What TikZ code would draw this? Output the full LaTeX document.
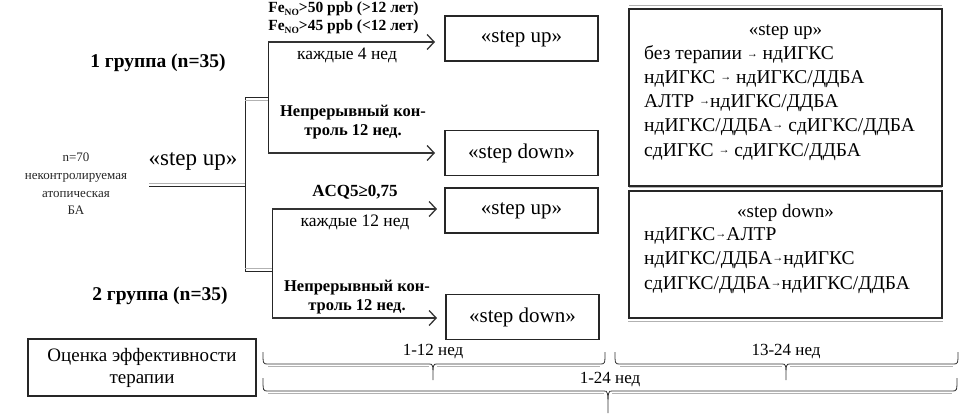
\documentclass[tikz,border=0pt]{standalone}
\usepackage{fontspec}
\setmainfont{Liberation Serif}
\usetikzlibrary{arrows.meta,calc}
\newcommand{\sarr}{\raisebox{0.3ex}{\fontsize{11}{11}\selectfont →}}
\newcommand{\mybrace}[6]{%
  \draw[line width=0.8pt, black!80] (#1,#4) .. controls (#1,#5) .. (#1+5,#5) -- (#3-4,#5) .. controls (#3,#5) .. (#3,#6) .. controls (#3,#5) .. (#3+4,#5) -- (#2-5,#5) .. controls (#2,#5) .. (#2,#4);
  \draw[line width=0.8pt, black!30] (#1+5,#5+2.2) -- (#3-4,#5+2.2) (#3+4,#5+2.2) -- (#2-5,#5+2.2);
}
\tikzset{
  lbox/.style={draw=black!85, line width=1.2pt, minimum width=153pt, minimum height=45pt, inner sep=0pt, font=\fontsize{21}{24}\selectfont},
  rbox/.style={draw=black!85, line width=1.3pt, inner sep=0pt},
  conn/.style={line width=1pt, black!85},
  arr/.style={line width=2pt, black!80, -{Straight Barb[length=7pt, width=15pt, line width=1.3pt]}},
  blab/.style={font=\fontsize{16.5}{19}\selectfont\bfseries, align=center, inner sep=0pt},
  nlab/.style={font=\fontsize{17.5}{19}\selectfont, align=center, inner sep=0pt},
  rtxt/.style={font=\fontsize{19.5}{24}\selectfont, anchor=west, inner sep=0pt},
  glab/.style={font=\fontsize{19.5}{22}\selectfont\bfseries, inner sep=0pt},
}
\begin{document}
\begin{tikzpicture}[x=1pt, y=-1pt]
\useasboundingbox (0,0) rectangle (975,413);

% left text
\node[font=\fontsize{13}{17.7}\selectfont, align=center, inner sep=0pt, text=black!85] (start) at (76,184) {n=70\\неконтролируемая\\атопическая\\БА};
\node[font=\fontsize{23}{26}\selectfont, inner sep=0pt] (stepup0) at (193,161) {«step up»};
\node[glab] (g1) at (158,63) {1 группа (n=35)};
\node[glab] (g2) at (160,296) {2 группа (n=35)};

% boxes
\node[lbox] (su1) at (521.5,38.5) {«step up»};
\node[lbox] (sd1) at (521.5,153) {«step down»};
\node[lbox] (su2) at (521.5,210.5) {«step up»};
\node[lbox] (sd2) at (522.5,317) {«step down»};

% bracket coordinates
\coordinate (ul) at (149,186);
\coordinate (um) at (245,186);
\coordinate (bT) at (245,97);
\coordinate (bB) at (245,271);
\coordinate (t1) at (268,97);
\coordinate (t2) at (272,271);
\coordinate (a1s) at (268,42);
\coordinate (a1e) at (435,42);
\coordinate (a2s) at (268,153);
\coordinate (a2e) at (435,153);
\coordinate (a3s) at (272,209);
\coordinate (a3e) at (437,209);
\coordinate (a4s) at (272,318);
\coordinate (a4e) at (437,318);

\draw[conn] (ul) -- (um);
\draw[black!30, line width=0.8pt] ($(ul)+(0,-3)$) -- ($(um)+(0,-3)$);
\draw[conn] (bT) -- (bB);
\draw[conn] (bT) -- (t1);
\draw[black!30, line width=0.8pt] ($(bT)+(0,3)$) -- ($(t1)+(0,3)$);
\draw[conn] (bB) -- (t2);
\draw[black!30, line width=0.8pt] ($(bB)+(0,-3)$) -- ($(t2)+(0,-3)$);
\draw[conn] (a1s) -- (a2s);
\draw[conn] (a3s) -- (a4s);
\draw[arr] (a1s) -- (a1e);
\draw[arr] (a2s) -- (a2e);
\draw[arr] (a3s) -- (a3e);
\draw[arr] (a4s) -- (a4e);

% arrow labels
\node[blab, font=\fontsize{15.5}{19}\selectfont\bfseries] (fe1) at (343.5,9) {Fe\raisebox{-0.35ex}{\fontsize{9.5}{9}\selectfont NO}>50 ppb (>12 лет)};
\node[blab, font=\fontsize{15.5}{19}\selectfont\bfseries] (fe2) at (343.5,27) {Fe\raisebox{-0.35ex}{\fontsize{9.5}{9}\selectfont NO}>45 ppb (<12 лет)};
\node[nlab] (k4) at (347,55) {каждые 4 нед};
\node[blab] (nk1) at (353,122.5) {Непрерывный кон-\\троль 12 нед.};
\node[blab, font=\fontsize{17}{19}\selectfont\bfseries] (acq) at (355,192) {ACQ5≥0,75};
\node[nlab] (k12) at (355,222) {каждые 12 нед};
\node[blab] (nk2) at (357,297) {Непрерывный кон-\\троль 12 нед.};

% right boxes
\node[rbox, minimum width=313pt, minimum height=177pt] (rb1) at (785.5,97.5) {};
\draw[black!30, line width=0.8pt] ($(rb1.north west)+(1,-2.5)$) -- ($(rb1.north east)+(-1,-2.5)$);
\node[rbox, minimum width=313pt, minimum height=127pt] (rb2) at (785.5,254.5) {};
\draw[black!30, line width=0.8pt] ($(rb2.north west)+(1,-2.8)$) -- ($(rb2.north east)+(-1,-2.8)$);
\draw[black!30, line width=0.8pt] ($(rb2.south west)+(0,3)$) -- ($(rb2.south east)+(0,3)$);

\node[font=\fontsize{19}{24}\selectfont, inner sep=0pt] (rt1) at (785.5,32) {«step up»};
\node[rtxt] (u1) at (644,55) {без терапии \sarr{} ндИГКС};
\node[rtxt] (u2) at (644,79) {ндИГКС \sarr{} ндИГКС/ДДБА};
\node[rtxt] (u3) at (644,103) {АЛТР \sarr{}ндИГКС/ДДБА};
\node[rtxt] (u4) at (644,127) {ндИГКС/ДДБА\sarr{} сдИГКС/ДДБА};
\node[rtxt] (u5) at (644,152) {сдИГКС \sarr{} сдИГКС/ДДБА};

\node[font=\fontsize{19}{24}\selectfont, inner sep=0pt] (rt2) at (785.5,213) {«step down»};
\node[rtxt] (d1) at (644,236) {ндИГКС\sarr{}АЛТР};
\node[rtxt] (d2) at (644,260) {ндИГКС/ДДБА\sarr{}ндИГКС};
\node[rtxt] (d3) at (644,285) {сдИГКС/ДДБА\sarr{}ндИГКС/ДДБА};

% evaluation
\node[draw=black!85, line width=1.2pt, minimum width=228pt, minimum height=57pt, align=center, inner sep=0pt, font=\fontsize{19}{22}\selectfont] (eval) at (142,367.5) {Оценка эффективности\\терапии};

% braces
\mybrace{263}{605}{433}{352}{364}{380}
\mybrace{615}{958}{786}{352}{364}{380}
\mybrace{263}{957}{608}{378}{391}{413}
\node[font=\fontsize{17}{19}\selectfont, inner sep=0pt] (w1) at (433,352) {1-12 нед};
\node[font=\fontsize{17}{19}\selectfont, inner sep=0pt] (w2) at (786,352) {13-24 нед};
\node[font=\fontsize{17}{19}\selectfont, inner sep=0pt] (w3) at (610,380) {1-24 нед};
\end{tikzpicture}
\end{document}
